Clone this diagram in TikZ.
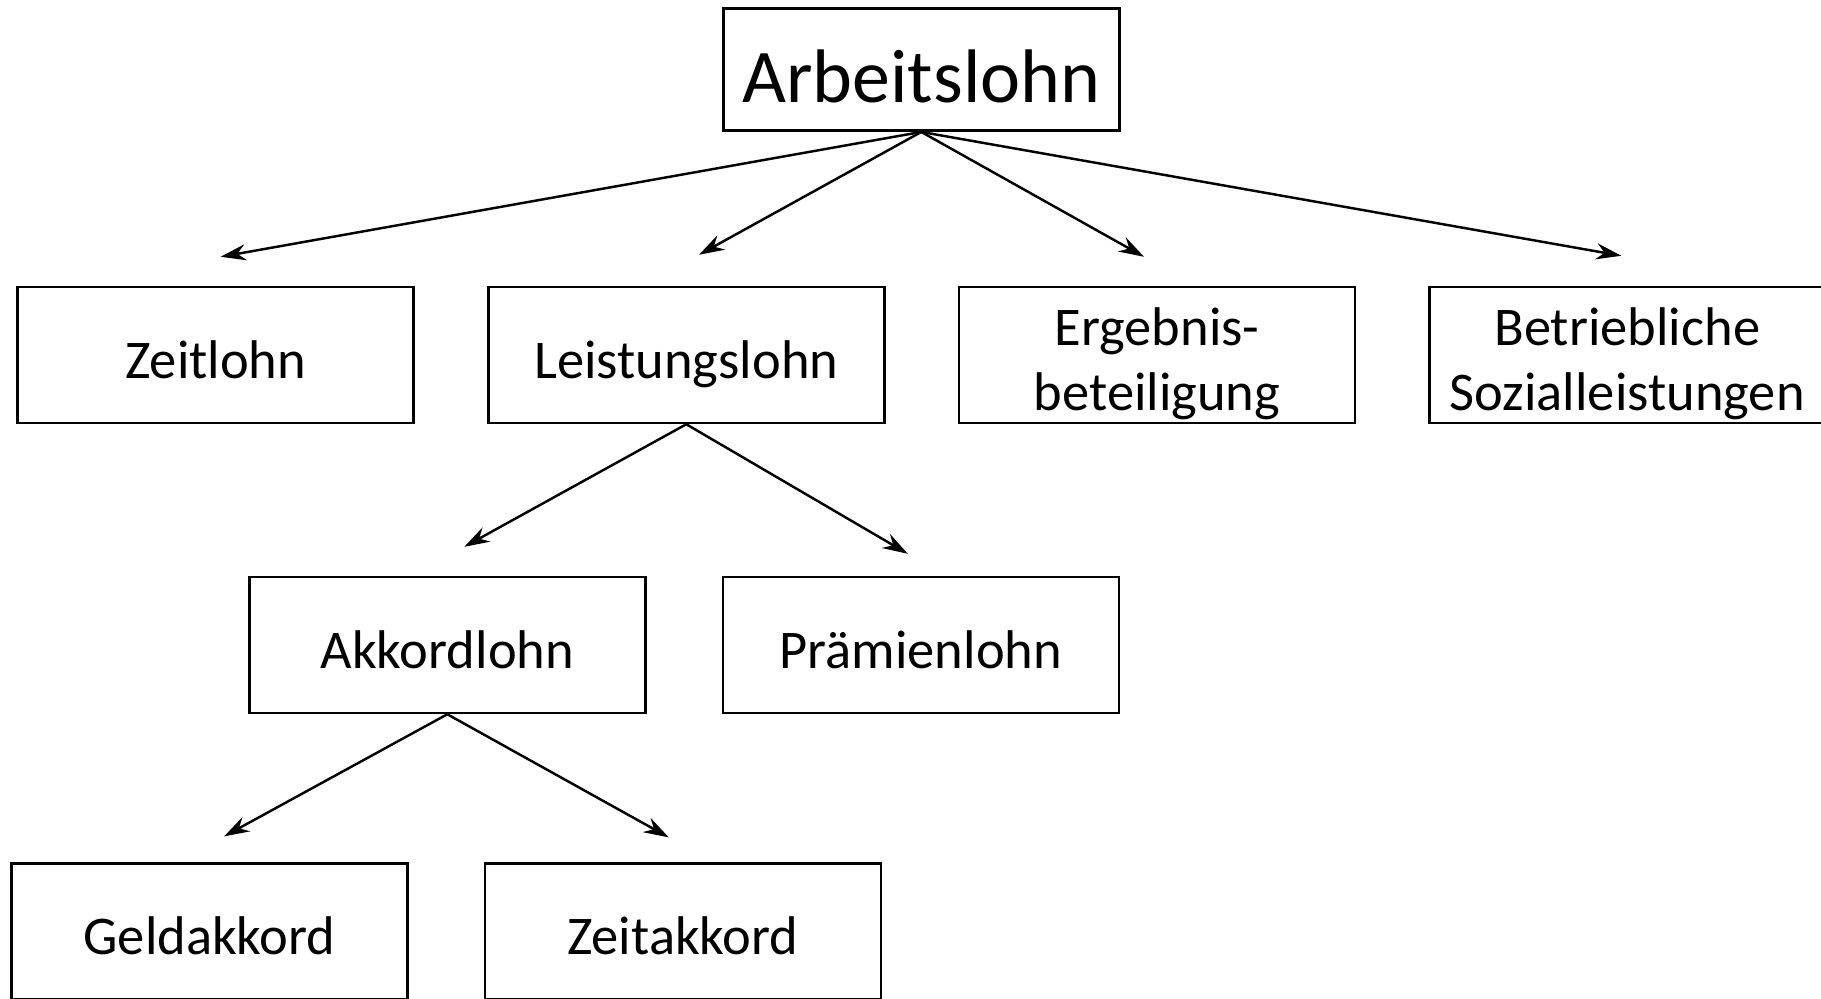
\documentclass[tikz,border=0pt]{standalone}
\usepackage{fontspec}
\setmainfont{Carlito}
\usetikzlibrary{arrows.meta}
\tikzset{
    box/.style={rectangle, draw, line width=0.7pt, minimum width=3.96cm,
                minimum height=1.36cm, inner sep=0, align=center,
                font=\fontsize{15.5}{18.5}\selectfont},
    topbox/.style={box, minimum height=1.22cm,
                font=\fontsize{21.6}{24}\selectfont,
                text height=18.4pt, text depth=0pt},
    oneline/.style={text height=13.2pt, text depth=0pt},
    twoline/.style={text height=31.4pt, text depth=0pt},
    link/.style={line width=0.7pt,
                -{Stealth[length=7.2pt, width=4.6pt, inset=2.4pt]}},
}

\begin{document}
\begin{tikzpicture}
        \useasboundingbox (0,0) rectangle (18.21,-9.98);
        %
        \node[topbox] (L0c1) at (9.213,-0.697) {Arbeitslohn};
        %
        % First line
        \node[box, oneline] (L1c1) at (2.157,-3.55) {Zeitlohn};
        \node[box, oneline] (L1c2) at (6.863,-3.55) {Leistungslohn};
        \node[box, twoline] (L1c3) at (11.57,-3.55) {Ergebnis-\\beteiligung};
        \node[box, twoline] (L1c4) at (16.273,-3.55) {Betriebliche\\Sozialleistungen};
        %
        % Second line
        \node[box, oneline] (L2c1) at (4.473,-6.45) {Akkordlohn};
        \node[box, oneline] (L2c2) at (9.208,-6.45) {Prämienlohn};
        %
        % Third line
        \node[box, oneline] (L3c1) at (2.095,-9.316) {Geldakkord};
        \node[box, oneline] (L3c2) at (6.828,-9.316) {Zeitakkord};
        %
        % Arrow tips
        \coordinate (T1c1) at ([xshift=0.05cm, yshift=0.29cm]L1c1.north);
        \coordinate (T1c2) at ([xshift=0.127cm, yshift=0.31cm]L1c2.north);
        \coordinate (T1c3) at ([xshift=-0.13cm, yshift=0.29cm]L1c3.north);
        \coordinate (T1c4) at ([xshift=-0.06cm, yshift=0.30cm]L1c4.north);
        \coordinate (T2c1) at ([xshift=0.17cm, yshift=0.29cm]L2c1.north);
        \coordinate (T2c2) at ([xshift=-0.13cm, yshift=0.22cm]L2c2.north);
        \coordinate (T3c1) at ([xshift=0.146cm, yshift=0.26cm]L3c1.north);
        \coordinate (T3c2) at ([xshift=-0.14cm, yshift=0.25cm]L3c2.north);
        %
        \draw[link] (L0c1.south) -- (T1c1);
        \draw[link] (L0c1.south) -- (T1c2);
        \draw[link] (L0c1.south) -- (T1c3);
        \draw[link] (L0c1.south) -- (T1c4);
        \draw[link] (L1c2.south) -- (T2c1);
        \draw[link] (L1c2.south) -- (T2c2);
        \draw[link] (L2c1.south) -- (T3c1);
        \draw[link] (L2c1.south) -- (T3c2);
    \end{tikzpicture}
\end{document}
